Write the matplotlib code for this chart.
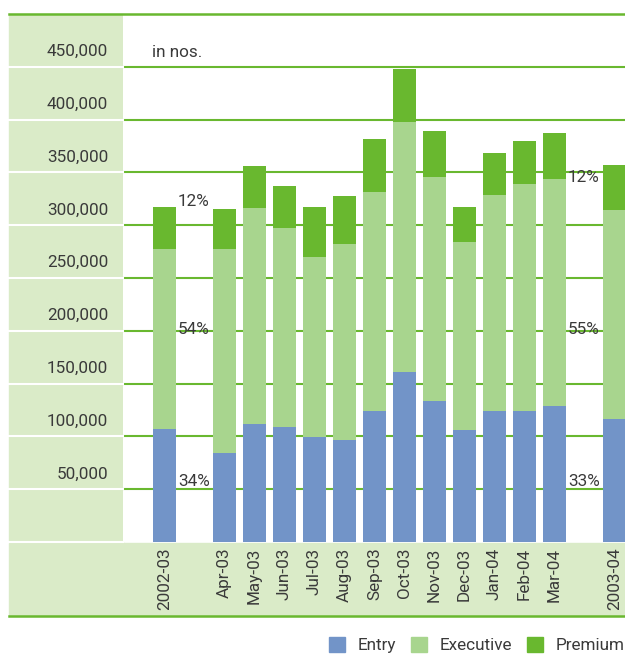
import matplotlib
matplotlib.use('Agg')
import matplotlib.pyplot as plt
import matplotlib.transforms as mtransforms
from matplotlib.patches import Rectangle, Patch
from matplotlib.lines import Line2D

# data (numbers of cars)
periods = ['2002-03', 'Apr-03', 'May-03', 'Jun-03', 'Jul-03', 'Aug-03', 'Sep-03',
           'Oct-03', 'Nov-03', 'Dec-03', 'Jan-04', 'Feb-04', 'Mar-04', '2003-04']
slots = [0, 2, 3, 4, 5, 6, 7, 8, 9, 10, 11, 12, 13, 15]
entry = [107000, 84300, 111700, 108900, 99400, 96600, 124100,
         161000, 133500, 106100, 124100, 124100, 128800, 116500]
executive = [170700, 193400, 204600, 188400, 170500, 185600, 207300,
             236700, 212100, 178000, 204500, 214900, 215000, 197900]
premium = [39500, 37600, 39700, 39700, 47300, 45500, 50200,
           50200, 43600, 33100, 39800, 40700, 43500, 42600]
yticks = [50000, 100000, 150000, 200000, 250000, 300000, 350000, 400000, 450000]
share_labels = [['34%', '54%', '12%'], ['33%', '55%', '12%']]

c_entry = '#7294C8'
c_exec = '#A8D58E'
c_prem = '#69B82F'
c_panel = '#DAEBC8'
c_text = '#3a3a3a'

plt.rcParams['font.family'] = ['Roboto', 'DejaVu Sans']
fs = 12.3

W, H = 625, 655
fig = plt.figure(figsize=(W / 100, H / 100), dpi=100)
ax = fig.add_axes([123 / W, (H - 542) / H, (625 - 123) / W, (542 - 14) / H])
ax.set_xlim(-1.383, 15.35)
ax.set_ylim(0, 500000)
for s in ax.spines.values():
    s.set_visible(False)
ax.set_yticks([])

# green grid lines inside the plot area
for v in yticks:
    ax.axhline(v, color=c_prem, lw=1.5, zorder=1)

bottoms2 = [a + b for a, b in zip(entry, executive)]
bw = 23 / 30
ax.bar(slots, entry, width=bw, color=c_entry, zorder=3)
ax.bar(slots, executive, bottom=entry, width=bw, color=c_exec, zorder=3)
ax.bar(slots, premium, bottom=bottoms2, width=bw, color=c_prem, zorder=3)

ax.set_xticks(slots)
ax.set_xticklabels(periods, rotation=90, fontsize=fs, color=c_text)
ax.tick_params(axis='x', length=0, pad=4)

# left label panel and bottom band
blend = mtransforms.blended_transform_factory(fig.transFigure, ax.transData)
fig.add_artist(Rectangle((9 / W, (H - 542) / H), (123 - 9) / W, (542 - 14) / H,
                         transform=fig.transFigure, color=c_panel, zorder=0))
fig.add_artist(Rectangle((9 / W, (H - 615) / H), (625 - 9) / W, (615 - 543) / H,
                         transform=fig.transFigure, color=c_panel, zorder=0))
for v in [0] + yticks:
    fig.add_artist(Line2D([9 / W, 123 / W], [v, v], transform=blend,
                          color='white', lw=1.5, zorder=1))
fig.add_artist(Line2D([9 / W, 1.0], [500000, 500000], transform=blend,
                      color=c_prem, lw=1.8, zorder=2))
fig.add_artist(Line2D([9 / W, 1.0], [(H - 616) / H] * 2, transform=fig.transFigure,
                      color=c_prem, lw=1.8, zorder=2))

for v in yticks:
    fig.text(108 / W, v + 14500, '{:,}'.format(v), transform=blend,
             ha='right', va='center', fontsize=fs, color=c_text)

ax.text(-0.42, 464000, 'in nos.', ha='left', va='center', fontsize=fs, color=c_text)

# share labels beside the yearly bars
label_y = [57700, 201700]
for x0, labels, top_y in [(0.45, share_labels[0], 322900), (13.45, share_labels[1], 344700)]:
    for lab, yy in zip(labels, label_y + [top_y]):
        ax.text(x0, yy, lab, ha='left', va='center', fontsize=fs, color=c_text, zorder=4)

handles = [Patch(color=c_entry, label='Entry'),
           Patch(color=c_exec, label='Executive'),
           Patch(color=c_prem, label='Premium')]
fig.legend(handles=handles, loc='lower right', bbox_to_anchor=(1.0, 0.003), ncol=3,
           frameon=False, fontsize=fs, handlelength=0.95, handleheight=0.95,
           columnspacing=0.85, handletextpad=0.75, labelcolor=c_text,
           borderpad=0.0, borderaxespad=0.0)

fig.savefig('out.png', dpi=100)
